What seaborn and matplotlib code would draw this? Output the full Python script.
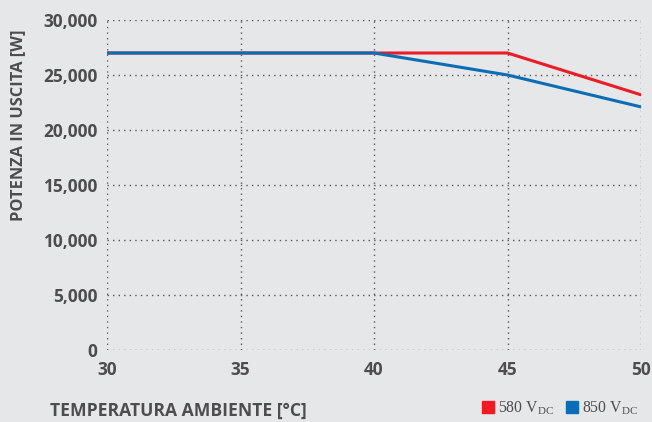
import matplotlib
matplotlib.use("Agg")
import matplotlib.pyplot as plt
import pandas as pd
import seaborn as sns
from matplotlib.lines import Line2D

temps = [30, 35, 40, 45, 50]
power_580 = [27000, 27000, 27000, 27000, 23200]
power_850 = [27000, 27000, 27000, 25000, 22100]
series_names = ["580 V$_{\\mathregular{DC}}$", "850 V$_{\\mathregular{DC}}$"]
y_ticks = [0, 5000, 10000, 15000, 20000, 25000, 30000]

BG = "#e6e7e9"
TEXT = "#4d4d4f"
RED = "#ed1c24"
BLUE = "#0a6db5"

sns.set_theme(style="white")
plt.rcParams["font.family"] = ["Open Sans", "DejaVu Sans"]
plt.rcParams["mathtext.fontset"] = "custom"
plt.rcParams["mathtext.rm"] = "Liberation Serif"

df = pd.DataFrame({
    "temp": temps * 2,
    "power": power_580 + power_850,
    "series": [series_names[0]] * len(temps) + [series_names[1]] * len(temps),
})

fig = plt.figure(figsize=(6.52, 4.22), dpi=100, facecolor=BG)
ax = fig.add_axes([107 / 652, 72 / 422, 534 / 652, 330 / 422])
ax.set_facecolor(BG)

sns.lineplot(data=df, x="temp", y="power", hue="series",
             palette=[RED, BLUE], linewidth=2.2, legend=False, ax=ax, zorder=3)

ax.set_xlim(30, 50)
ax.set_ylim(0, 30000)
ax.set_xticks(temps)
ax.set_yticks(y_ticks)
ax.set_yticklabels([f"{v:,}" for v in y_ticks])
for s in ax.spines.values():
    s.set_visible(False)
ax.grid(True, linestyle=(0, (1, 3)), color="#555555", linewidth=1.0)
ax.tick_params(axis="both", length=0, labelsize=12.4, colors=TEXT)
ax.tick_params(axis="y", pad=7)
ax.tick_params(axis="x", pad=8)
for lab in ax.get_xticklabels() + ax.get_yticklabels():
    lab.set_fontweight("bold")

ax.set_xlabel("")
ax.set_ylabel("POTENZA IN USCITA [W]", fontsize=11.8, fontweight="bold", color=TEXT)
ax.yaxis.set_label_coords(-89 / 534, 0.68)
ax.yaxis.label.set_va("center")

fig.text(50 / 652, 6 / 422, "TEMPERATURA AMBIENTE [°C]", fontsize=12.6,
         fontweight="bold", color=TEXT, ha="left", va="baseline")

handles = [Line2D([], [], marker="s", linestyle="none", markersize=8, color=c) for c in (RED, BLUE)]
leg = fig.legend(handles, series_names, loc="lower right", bbox_to_anchor=(1.0, -0.022),
                 ncol=2, frameon=False, handletextpad=0.1, columnspacing=0.6,
                 handlelength=1.1, prop={"family": "Liberation Serif", "size": 11.3})
for t in leg.get_texts():
    t.set_color(TEXT)

fig.savefig("out.png", dpi=100, facecolor=BG)
